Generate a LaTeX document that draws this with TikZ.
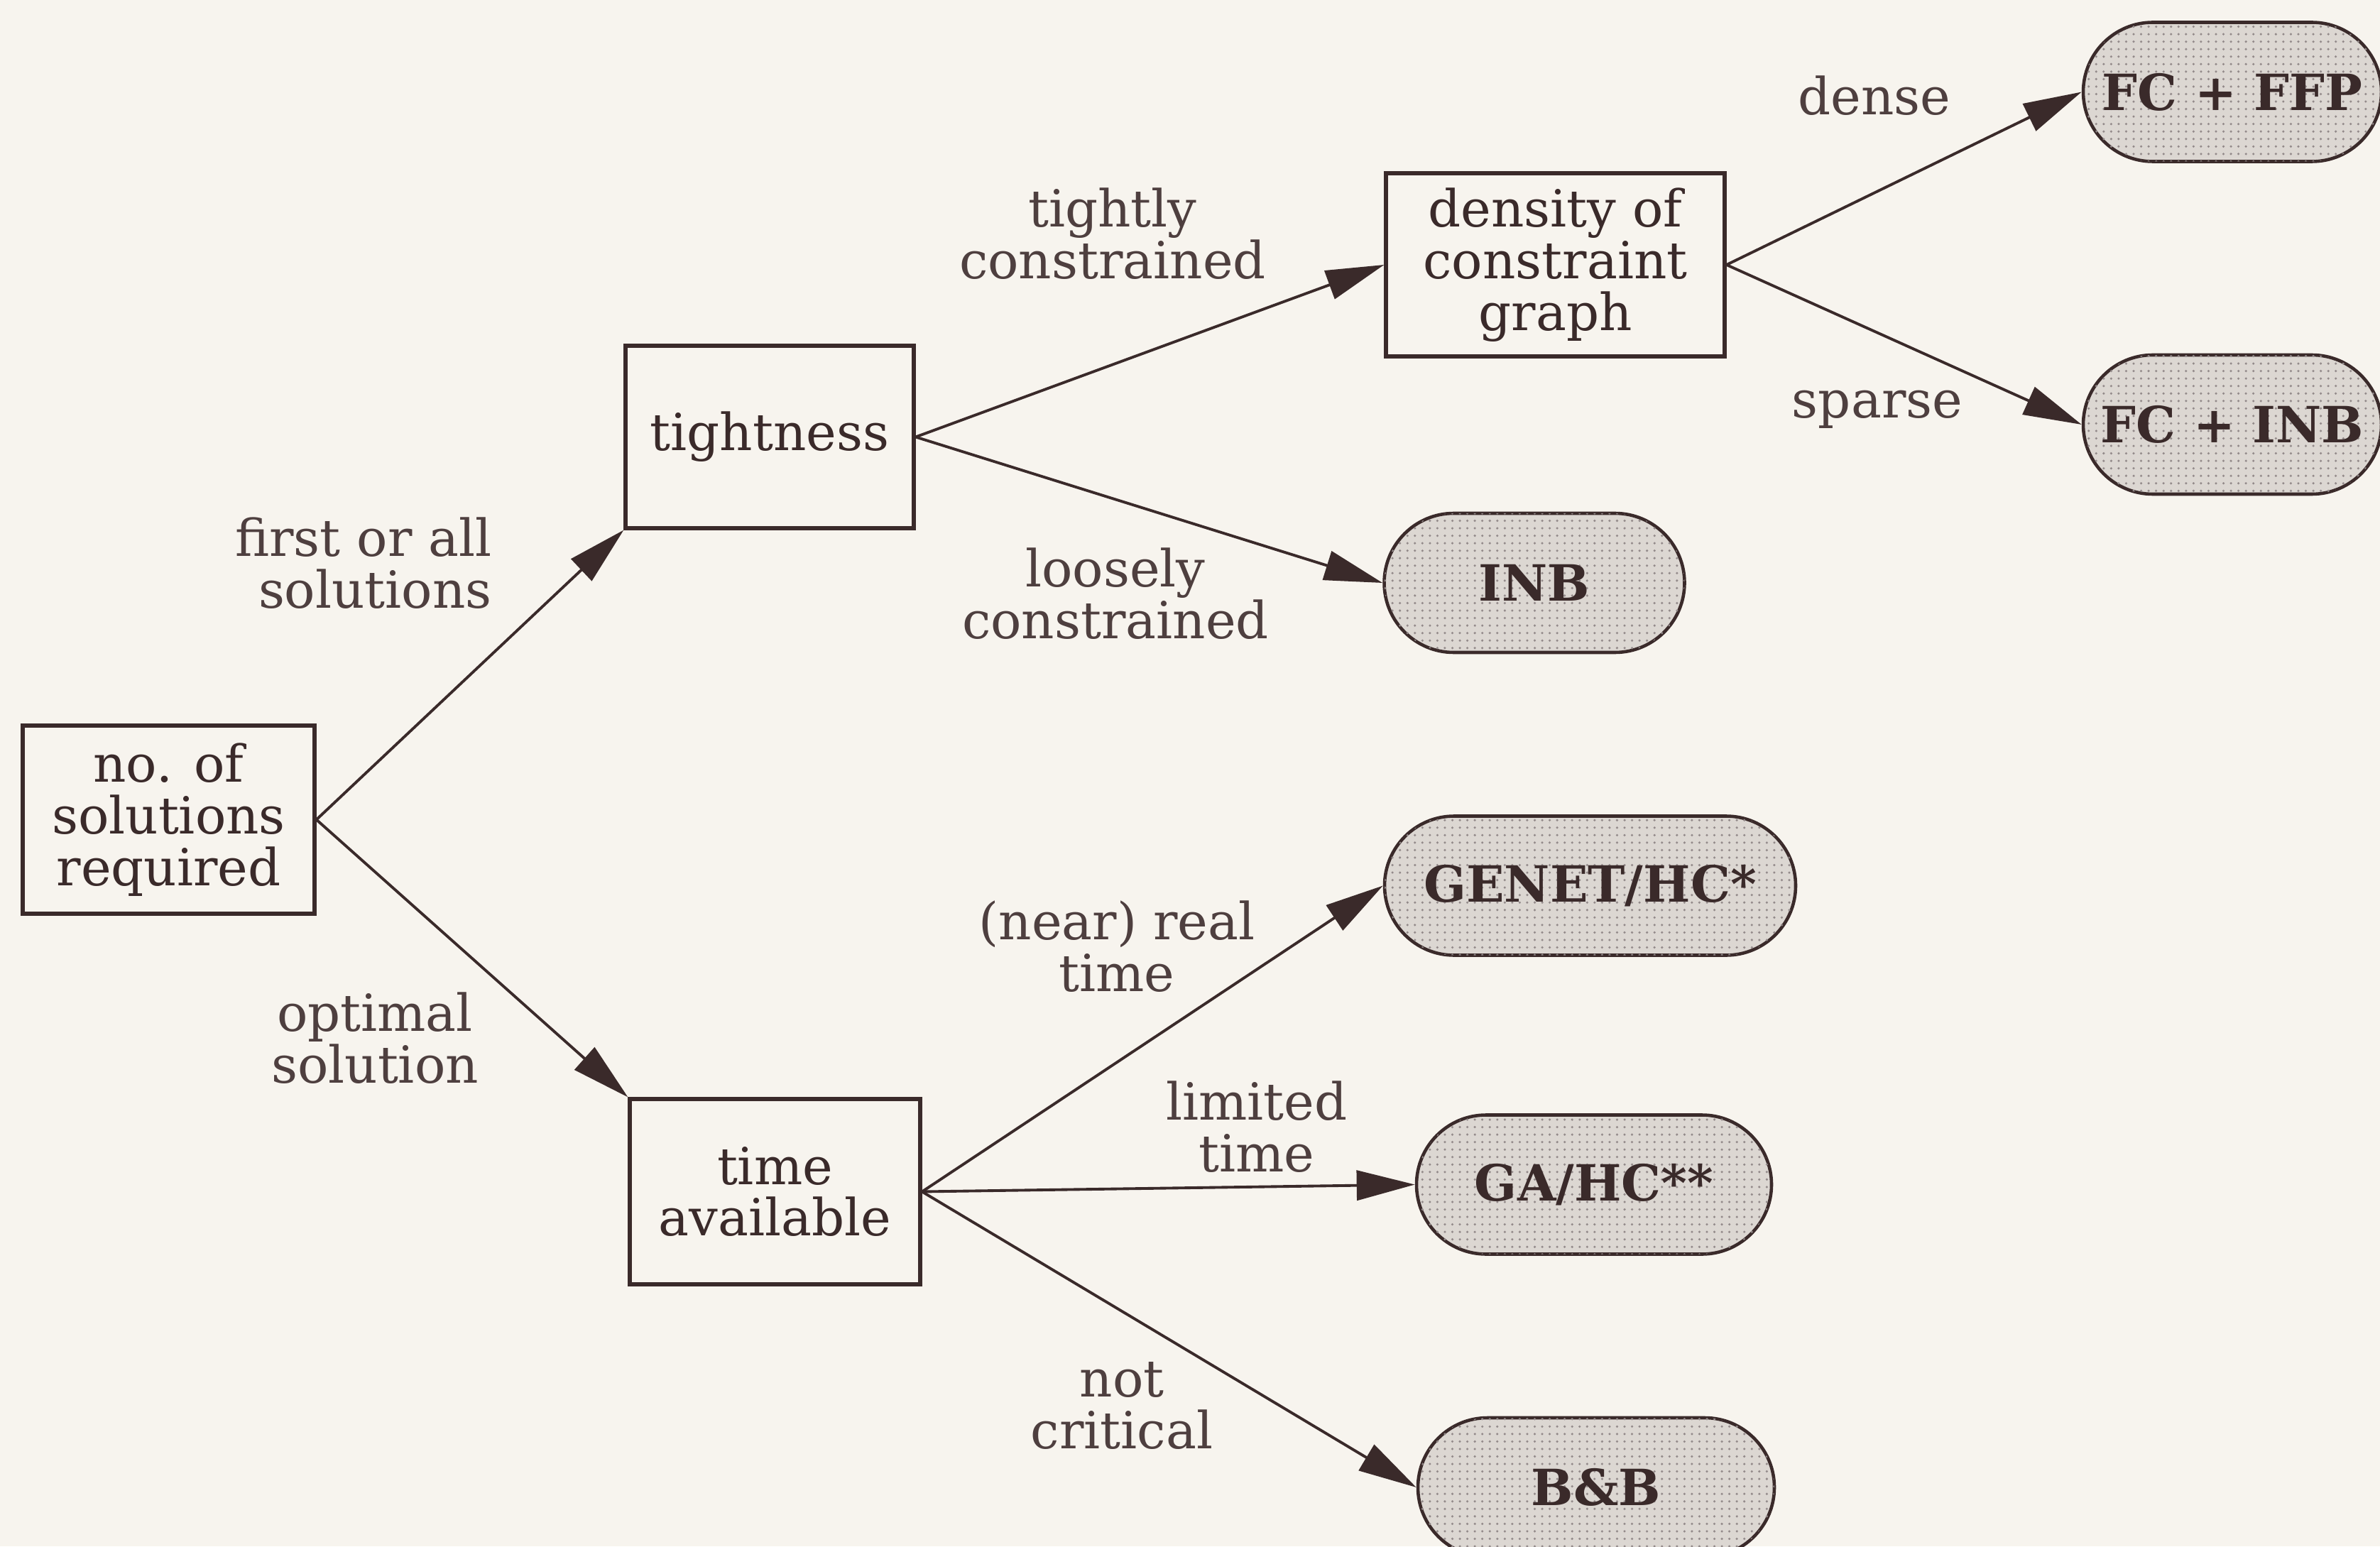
\documentclass[tikz,border=0pt]{standalone}
\usepackage{fontspec}
\setmainfont{DejaVu Serif}
\usetikzlibrary{arrows.meta,patterns}
\definecolor{ink}{HTML}{3A2A2A}
\definecolor{paper}{HTML}{F7F4EE}
\definecolor{shade}{HTML}{DCD7D2}
\tikzset{
  test/.style={draw=ink, line width=1.5pt, text=ink, inner sep=0pt, align=center,
    font=\fontsize{20.5}{20.7}\selectfont},
  result/.style={draw=ink, line width=1.3pt, rounded corners=9.8mm, fill=shade,
    postaction={pattern=dots, pattern color=ink!55}, minimum height=1.96cm,
    text=ink, inner sep=0pt, font=\bfseries\fontsize{20}{20.7}\selectfont},
  choice/.style={text=ink!90, inner sep=0pt, align=center,
    font=\fontsize{20.5}{20.7}\selectfont},
  branch/.style={draw=ink, line width=1.1pt, -{Triangle[length=8.2mm,width=4.2mm]}}
}
\begin{document}
\begin{tikzpicture}
  \fill[paper] (0,0) rectangle (33.52,21.78);
  \useasboundingbox (0,0) rectangle (33.52,21.78);

  % decision boxes
  \node[test, minimum width=4.11cm, minimum height=2.65cm] (nsol) at (2.375,10.235) {no. of\\solutions\\required};
  \node[test, minimum width=4.06cm, minimum height=2.57cm] (tight) at (10.84,15.625) {tightness};
  \node[test, minimum width=4.77cm, minimum height=2.58cm] (dens) at (21.905,18.05) {density of\\constraint\\graph};
  \node[test, minimum width=4.09cm, minimum height=2.61cm] (time) at (10.915,4.995) {time\\available};

  % algorithms
  \node[result, minimum width=4.2cm] (ffp) at (31.44,20.485) {FC + FFP};
  \node[result, minimum width=4.2cm] (fcinb) at (31.44,15.80) {FC + INB};
  \node[result, minimum width=4.23cm] (inb) at (21.61,13.57) {INB};
  \node[result, minimum width=5.79cm] (genet) at (22.395,9.305) {GENET/HC*};
  \node[result, minimum width=5.0cm] (gahc) at (22.45,5.095) {GA/HC**};
  \node[result, minimum width=5.02cm] (bb) at (22.48,0.83) {B\&B};

  % branches
  \draw[branch] (nsol.east) -- (tight.south west);
  \draw[branch] (nsol.east) -- (time.north west);
  \draw[branch] (tight.east) -- (dens.west);
  \draw[branch] (tight.east) -- (inb.west);
  \draw[branch] (dens.east) -- (ffp.west);
  \draw[branch] (dens.east) -- (fcinb.west);
  \draw[branch] (time.east) -- (genet.west);
  \draw[branch] (time.east) -- (gahc.west);
  \draw[branch] (time.east) -- (bb.west);

  % branch labels
  \node[choice, align=right] (lfirst) at (5.12,13.85) {first or all\\solutions};
  \node[choice] (lopt) at (5.28,7.16) {optimal\\solution};
  \node[choice] (ltight) at (15.67,18.49) {tightly\\constrained};
  \node[choice] (lloose) at (15.71,13.42) {loosely\\constrained};
  \node[choice] (ldense) at (26.40,20.43) {dense};
  \node[choice] (lsparse) at (26.44,16.01) {sparse};
  \node[choice] (lnear) at (15.73,8.45) {(near) real\\time};
  \node[choice] (llim) at (17.70,5.91) {limited\\time};
  \node[choice] (lnot) at (15.80,1.98) {not\\critical};
\end{tikzpicture}
\end{document}
